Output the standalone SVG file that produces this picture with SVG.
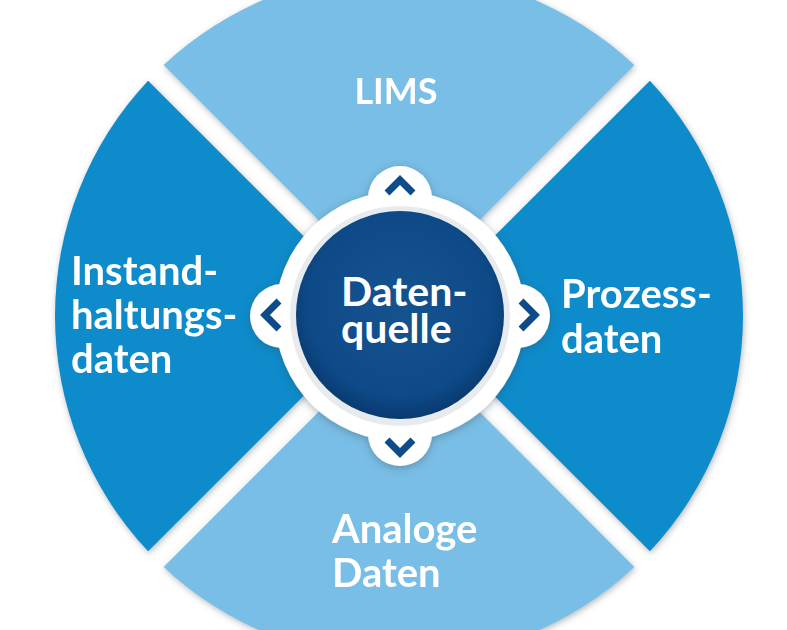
<svg xmlns="http://www.w3.org/2000/svg" width="787" height="630" viewBox="0 0 787 630">
  <defs>
    <filter id="shadow" x="-20%" y="-20%" width="140%" height="140%">
      <feDropShadow dx="1" dy="2" stdDeviation="3" flood-color="#5a6670" flood-opacity="0.45"/>
    </filter>
    <filter id="ringShadow" x="-30%" y="-30%" width="160%" height="160%">
      <feDropShadow dx="0" dy="2" stdDeviation="4" flood-color="#3a4a5a" flood-opacity="0.4"/>
    </filter>
    <radialGradient id="navyGrad" cx="50%" cy="45%" r="55%">
      <stop offset="0%" stop-color="#15538f"/>
      <stop offset="80%" stop-color="#0e4a88"/>
      <stop offset="100%" stop-color="#083a70"/>
    </radialGradient>
  </defs>
  <style>
    .light { fill: #79bee6; }
    .medium { fill: #0a8bcb; }
    .lbl { font-family: Lato, "Open Sans", "Liberation Sans", sans-serif; font-weight: 700; fill: #ffffff; }
    .chev { fill: none; stroke: #0d4b8b; stroke-width: 7; stroke-linejoin: miter; stroke-linecap: butt; }
  </style>
  <rect width="787" height="630" fill="#ffffff"/>

  <g id="sector-lims" filter="url(#shadow)">
    <path class="light" d="M 399 300.44 L 163.66 65.10 A 344 344 0 0 1 634.34 65.10 Z"/>
    <text class="lbl" x="396" y="104" font-size="36" text-anchor="middle">LIMS</text>
  </g>

  <g id="sector-prozessdaten" filter="url(#shadow)">
    <path class="medium" d="M 414.56 316 L 649.90 80.66 A 344 344 0 0 1 649.90 551.34 Z"/>
    <text class="lbl" font-size="40"><tspan x="561" y="308">Prozess-</tspan><tspan x="561" y="353">daten</tspan></text>
  </g>

  <g id="sector-analoge-daten" filter="url(#shadow)">
    <path class="light" d="M 399 331.56 L 634.34 566.90 A 344 344 0 0 1 163.66 566.90 Z"/>
    <text class="lbl" font-size="40"><tspan x="332" y="543">Analoge</tspan><tspan x="332" y="587">Daten</tspan></text>
  </g>

  <g id="sector-instandhaltungsdaten" filter="url(#shadow)">
    <path class="medium" d="M 383.44 316 L 148.10 551.34 A 344 344 0 0 1 148.10 80.66 Z"/>
    <text class="lbl" font-size="40"><tspan x="71" y="285">Instand-</tspan><tspan x="71" y="329">haltungs-</tspan><tspan x="71" y="373">daten</tspan></text>
  </g>

  <g id="datenquelle">
    <g filter="url(#ringShadow)" fill="#ffffff">
      <circle cx="400" cy="316" r="125"/>
      <circle cx="400" cy="198" r="32"/>
      <circle cx="400" cy="434" r="32"/>
      <circle cx="282" cy="316" r="32"/>
      <circle cx="518" cy="316" r="32"/>
    </g>
    <circle cx="400" cy="316" r="110" fill="#d9dde1" opacity="0.6"/>
    <circle cx="400" cy="315" r="104" fill="url(#navyGrad)"/>
    <text class="lbl" font-size="41"><tspan x="341" y="306">Daten-</tspan><tspan x="341" y="343">quelle</tspan></text>
  </g>

  <g id="connectors">
    <polyline class="chev" points="387,193 400,180 413,193"/>
    <polyline class="chev" points="387,440 400,453 413,440"/>
    <polyline class="chev" points="279,301 265,315 279,329"/>
    <polyline class="chev" points="521,301 535,315 521,329"/>
  </g>
</svg>
